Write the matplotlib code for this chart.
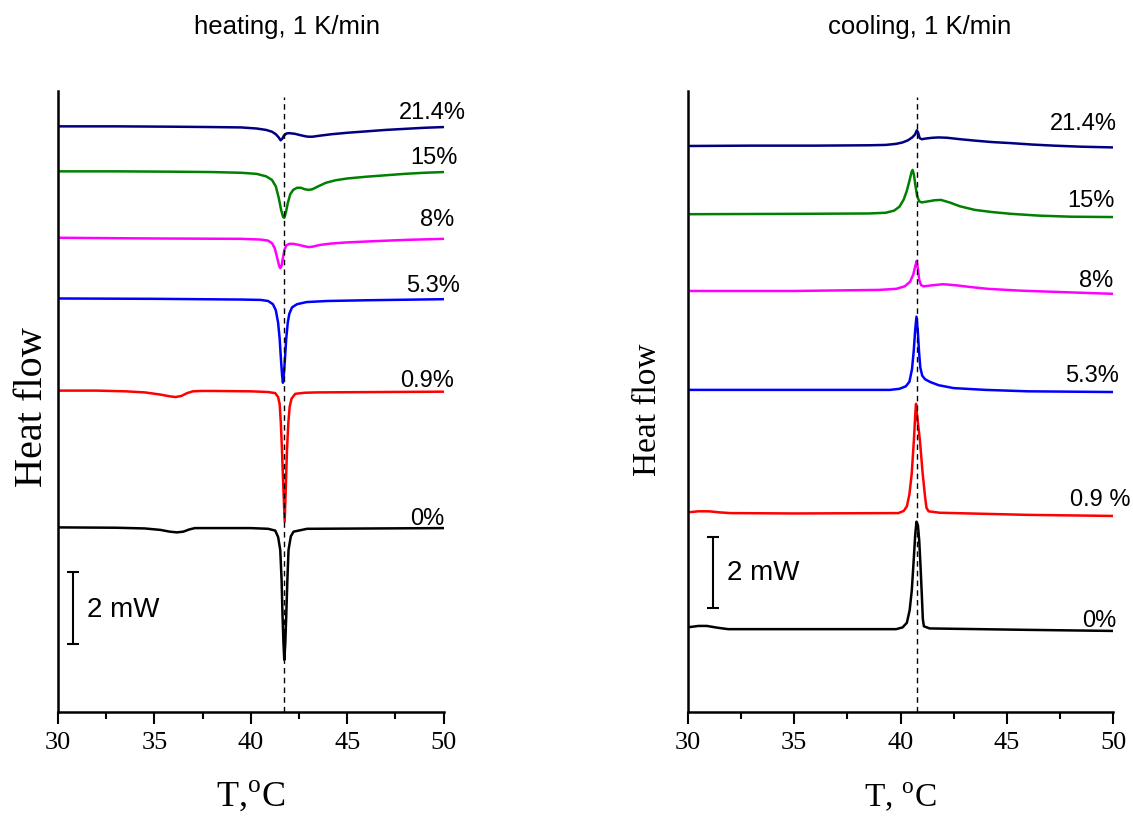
import matplotlib
matplotlib.use('Agg')
import matplotlib.pyplot as plt
from matplotlib.ticker import MultipleLocator

# ---------------- data ----------------
heat_labels = ['21.4%', '15%', '8%', '5.3%', '0.9%', '0%']
cool_labels = ['21.4%', '15%', '8%', '5.3%', '0.9 %', '0%']
colors = ['#000080', '#008000', '#ff00ff', '#0000ff', '#ff0000', '#000000']

# heating, 1 K/min  (T in degC, heat flow in mW, curves stacked)
h21_T = [30, 33, 36, 38, 39.5, 40.3, 40.8, 41.1, 41.3, 41.45, 41.55, 41.63, 41.72, 41.85, 42.0, 42.3, 42.6,
         42.85, 43.0, 43.2, 43.6, 44.2, 45, 46, 47, 48, 49, 50]
h21_y = [16.40, 16.40, 16.39, 16.38, 16.37, 16.34, 16.30, 16.25, 16.18, 16.09, 16.01, 16.05, 16.14, 16.20,
         16.21, 16.19, 16.15, 16.12, 16.11, 16.11, 16.14, 16.18, 16.22, 16.26, 16.30, 16.33, 16.36, 16.38]

h15_T = [30, 33, 36, 38, 39.5, 40.3, 40.8, 41.1, 41.3, 41.45, 41.58, 41.68, 41.74, 41.82, 41.92, 42.05, 42.2,
         42.4, 42.6, 42.8, 43.0, 43.2, 43.5, 43.9, 44.4, 45, 46, 47, 48, 49, 50]
h15_y = [15.14, 15.14, 15.13, 15.12, 15.10, 15.07, 15.00, 14.90, 14.72, 14.40, 14.05, 13.86, 13.84, 13.98,
         14.25, 14.50, 14.62, 14.68, 14.68, 14.64, 14.62, 14.64, 14.72, 14.82, 14.89, 14.94, 14.99, 15.03,
         15.07, 15.10, 15.12]

h8_T = [30, 35, 39.5, 40.5, 40.9, 41.1, 41.25, 41.37, 41.47, 41.53, 41.6, 41.67, 41.75, 41.85, 42.0, 42.2,
        42.5, 42.8, 43.0, 43.2, 43.6, 44.2, 45, 46.2, 48, 50]
h8_y = [13.28, 13.26, 13.25, 13.23, 13.20, 13.13, 12.98, 12.72, 12.50, 12.43, 12.50, 12.72, 12.95, 13.07,
        13.11, 13.11, 13.08, 13.04, 13.02, 13.03, 13.08, 13.12, 13.15, 13.18, 13.22, 13.25]

h53_T = [30, 35, 39.5, 40.5, 40.9, 41.15, 41.3, 41.42, 41.5, 41.57, 41.63, 41.67, 41.71, 41.77, 41.84, 41.92,
         42.0, 42.14, 42.4, 42.9, 44, 46, 50]
h53_y = [11.58, 11.57, 11.55, 11.54, 11.51, 11.42, 11.25, 10.90, 10.45, 9.85, 9.40, 9.22, 9.40, 9.85, 10.45,
         10.90, 11.15, 11.33, 11.42, 11.48, 11.51, 11.53, 11.56]

h09_T = [30, 32, 33.5, 34.5, 35.3, 35.8, 36.1, 36.4, 36.7, 37.0, 37.4, 38, 40, 40.9, 41.27, 41.42, 41.50,
         41.56, 41.62, 41.69, 41.76, 41.82, 41.88, 41.95, 42.02, 42.12, 42.31, 42.8, 43.44, 50]
h09_y = [9.00, 9.00, 8.98, 8.95, 8.89, 8.84, 8.82, 8.85, 8.93, 8.98, 8.99, 8.99, 8.98, 8.96, 8.93, 8.82, 8.62,
         8.10, 7.34, 6.30, 5.33, 6.30, 7.34, 8.10, 8.55, 8.78, 8.91, 8.94, 8.95, 8.97]

h0_T = [30, 33, 34.5, 35.3, 35.8, 36.17, 36.5, 36.8, 37.1, 38, 40, 40.9, 41.27, 41.42, 41.53, 41.6, 41.65,
        41.70, 41.74, 41.79, 41.84, 41.90, 41.96, 42.08, 42.22, 42.92, 50]
h0_y = [5.17, 5.16, 5.14, 5.10, 5.05, 5.03, 5.05, 5.11, 5.15, 5.15, 5.15, 5.13, 5.08, 4.90, 4.54, 3.70, 2.67,
        1.90, 1.46, 1.90, 2.67, 3.70, 4.54, 4.92, 5.05, 5.13, 5.15]

# cooling, 1 K/min
c21_T = [30, 33, 36, 38.5, 39.3, 39.8, 40.1, 40.35, 40.55, 40.68, 40.77, 40.83, 40.9, 41.0, 41.2, 41.5, 41.8,
         42.2, 42.8, 43.5, 44.3, 45.2, 46.2, 47.2, 48.5, 50]
c21_y = [15.85, 15.86, 15.86, 15.87, 15.88, 15.91, 15.95, 16.01, 16.09, 16.17, 16.29, 16.22, 16.07, 16.04,
         16.06, 16.08, 16.09, 16.08, 16.04, 16.00, 15.96, 15.93, 15.89, 15.86, 15.83, 15.81]

c15_T = [30, 35, 38.5, 39.3, 39.7, 39.95, 40.15, 40.3, 40.43, 40.52, 40.57, 40.63, 40.7, 40.78, 40.88, 41.0,
         41.3, 41.6, 41.9, 42.3, 42.8, 43.5, 44.3, 45.2, 46.5, 48, 50]
c15_y = [13.94, 13.95, 13.96, 13.98, 14.04, 14.15, 14.35, 14.60, 14.90, 15.12, 15.18, 15.05, 14.75, 14.45,
         14.30, 14.27, 14.30, 14.33, 14.34, 14.27, 14.16, 14.06, 14.00, 13.95, 13.90, 13.87, 13.86]

c8_T = [30, 35, 39, 39.8, 40.2, 40.45, 40.6, 40.7, 40.76, 40.82, 40.88, 40.97, 41.1, 41.5, 42.0, 42.6, 43.3,
        44.1, 45.6, 47.5, 50]
c8_y = [11.79, 11.79, 11.82, 11.85, 11.92, 12.05, 12.25, 12.50, 12.63, 12.40, 12.10, 11.95, 11.92, 11.95,
        11.98, 11.95, 11.90, 11.85, 11.80, 11.76, 11.71]

c53_T = [30, 35, 39.5, 39.95, 40.25, 40.42, 40.54, 40.62, 40.69, 40.75, 40.81, 40.87, 40.93, 41.02, 41.15,
         41.4, 41.8, 42.5, 44, 46, 50]
c53_y = [9.02, 9.02, 9.02, 9.05, 9.12, 9.25, 9.60, 10.10, 10.70, 11.07, 10.70, 10.10, 9.65, 9.42, 9.32, 9.24,
         9.15, 9.07, 9.02, 8.98, 8.96]

c09_T = [30, 30.5, 31, 31.5, 32, 35, 39.9, 40.15, 40.3, 40.42, 40.53, 40.63, 40.7, 40.73, 40.78, 40.91, 41.04,
         41.15, 41.22, 41.32, 41.84, 46, 50]
c09_y = [5.59, 5.62, 5.62, 5.59, 5.57, 5.56, 5.57, 5.63, 5.76, 6.10, 6.69, 7.62, 8.40, 8.63, 8.30, 7.62, 6.69,
         6.05, 5.72, 5.62, 5.58, 5.52, 5.49]

c0_T = [30, 30.5, 30.9, 31.4, 31.9, 35, 39.8, 40.1, 40.3, 40.43, 40.53, 40.62, 40.69, 40.75, 40.82, 40.88,
        40.94, 41.0, 41.05, 41.1, 41.37, 46, 50]
c0_y = [2.37, 2.41, 2.41, 2.36, 2.32, 2.32, 2.32, 2.37, 2.50, 2.85, 3.40, 4.25, 4.95, 5.33, 5.22, 4.80, 4.10,
        3.30, 2.60, 2.40, 2.34, 2.30, 2.27]

heat_T_peak = 41.72
cool_T_peak = 40.76
scale_mW = 2.0

heat_curves = [(h21_T, h21_y), (h15_T, h15_y), (h8_T, h8_y), (h53_T, h53_y), (h09_T, h09_y), (h0_T, h0_y)]
cool_curves = [(c21_T, c21_y), (c15_T, c15_y), (c8_T, c8_y), (c53_T, c53_y), (c09_T, c09_y), (c0_T, c0_y)]

# ---------------- layout ----------------
W, H = 1133, 816
SANS = 'Liberation Sans'
SERIF = 'Liberation Serif'
plt.rcParams['font.family'] = SERIF
plt.rcParams['mathtext.fontset'] = 'custom'
plt.rcParams['mathtext.rm'] = SERIF
plt.rcParams['xtick.labelsize'] = 19

fig = plt.figure(figsize=(W / 100, H / 100), dpi=100)

def px_ax(x0, x1, ytop, ybot):
    return [x0 / W, 1 - ybot / H, (x1 - x0) / W, (ybot - ytop) / H]

axL = fig.add_axes(px_ax(58, 443.5, 91, 712))
axR = fig.add_axes(px_ax(687.7, 1113.3, 91, 712))

YMAX = 17.39

for ax in (axL, axR):
    ax.set_xlim(30, 50)
    ax.set_ylim(0, YMAX)
    for s in ('top', 'right'):
        ax.spines[s].set_visible(False)
    for s in ('left', 'bottom'):
        ax.spines[s].set_linewidth(1.8)
    ax.set_yticks([])
    ax.xaxis.set_major_locator(MultipleLocator(5))
    ax.xaxis.set_minor_locator(MultipleLocator(2.5))
    ax.tick_params(axis='x', which='major', direction='out', length=8.5, width=1.5, pad=6,
                   labelsize=19)
    ax.tick_params(axis='x', which='minor', direction='out', length=5, width=1.5)

# curves
for (T, y), c in zip(heat_curves, colors):
    axL.plot(T, y, color=c, lw=1.8, solid_joinstyle='round', solid_capstyle='round')
for (T, y), c in zip(cool_curves, colors):
    axR.plot(T, y, color=c, lw=1.8, solid_joinstyle='round', solid_capstyle='round')

# dashed guide lines
axL.axvline(heat_T_peak, ymin=0, ymax=0.99, color='black', lw=1.0, dashes=(4, 3))
axR.axvline(cool_T_peak, ymin=0, ymax=0.99, color='black', lw=1.0, dashes=(4, 3))

# curve labels (right aligned, on baseline)
heat_lab_pos = [(51.14, 16.60), (50.71, 15.35), (50.54, 13.61), (50.85, 11.76), (50.57, 9.11), (50.05, 5.24)]
cool_lab_pos = [(50.19, 16.30), (50.08, 14.14), (50.00, 11.91), (50.27, 9.24), (50.83, 5.78), (50.16, 2.39)]
for lab, (x, y) in zip(heat_labels, heat_lab_pos):
    axL.text(x, y, lab, ha='right', va='baseline', fontsize=17, family=SANS, clip_on=False)
for lab, (x, y) in zip(cool_labels, cool_lab_pos):
    axR.text(x, y, lab, ha='right', va='baseline', fontsize=17, family=SANS, clip_on=False)

# scale bars
axL.errorbar([30.79], [2.91], yerr=[scale_mW / 2], fmt='none', ecolor='black',
             elinewidth=1.5, capsize=4.5, capthick=1.5)
axL.text(31.49, 2.67, '2 mW', ha='left', va='baseline', fontsize=20, family=SANS)
axR.errorbar([31.20], [3.90], yerr=[scale_mW / 2], fmt='none', ecolor='black',
             elinewidth=1.5, capsize=4.5, capthick=1.5)
axR.text(31.83, 3.70, '2 mW', ha='left', va='baseline', fontsize=20, family=SANS)

# titles
fig.text(286.7 / W, 1 - 34 / H, 'heating, 1 K/min', ha='center', va='baseline',
         fontsize=18.5, family=SANS)
fig.text(919.5 / W, 1 - 34 / H, 'cooling, 1 K/min', ha='center', va='baseline',
         fontsize=18.5, family=SANS)

# axis labels
fig.text(251 / W, 1 - 806 / H, r'T,$^{\mathrm{o}}$C', ha='center', va='baseline',
         fontsize=26, family=SERIF)
fig.text(900 / W, 1 - 806 / H, r'T, $^{\mathrm{o}}$C', ha='center', va='baseline',
         fontsize=24, family=SERIF)
fig.text(33 / W, 1 - 407 / H, 'Heat flow', rotation=90, ha='center', va='center',
         fontsize=29, family=SERIF)
fig.text(648 / W, 1 - 410 / H, 'Heat flow', rotation=90, ha='center', va='center',
         fontsize=24, family=SERIF)

fig.savefig('out.png', dpi=100)
